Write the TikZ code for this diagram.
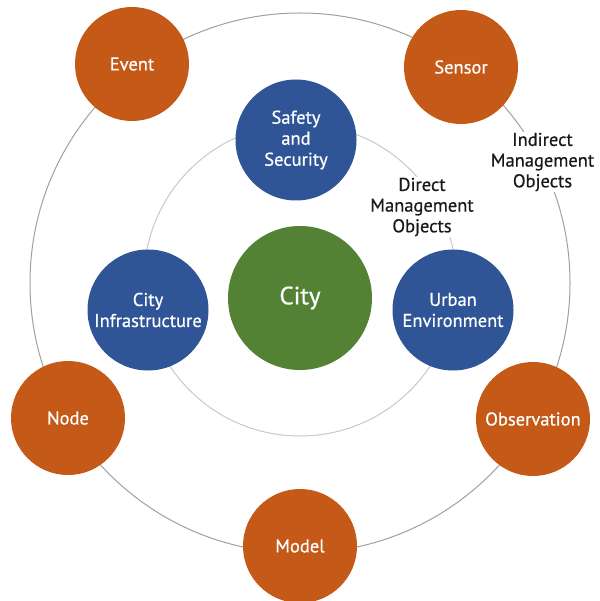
\documentclass[tikz,border=0pt]{standalone}
\usepackage{fontspec}
\setmainfont{PT Sans}[FakeBold=0.6]
\definecolor{orangec}{HTML}{C55A18}
\definecolor{bluec}{HTML}{2F5597}
\definecolor{greenc}{HTML}{548235}
\definecolor{ringouter}{HTML}{A0A0A0}
\definecolor{ringinner}{HTML}{C8C8C8}
\tikzset{
  outerobj/.style={circle, fill=orangec, text=white, minimum size=114pt, inner sep=0pt, align=center, font=\fontsize{18.5}{21}\selectfont},
  innerobj/.style={circle, fill=bluec, text=white, minimum size=121pt, inner sep=0pt, align=center, font=\fontsize{18.5}{21}\selectfont},
  cityobj/.style={circle, fill=greenc, text=white, minimum size=144pt, inner sep=0pt, align=center, font=\fontsize{25}{28}\selectfont},
  ringlabel/.style={fill=white, text=black!90, align=center, inner sep=1pt, font=\fontsize{18.5}{20.7}\selectfont},
}
\begin{document}
\begin{tikzpicture}[x=1pt,y=-1pt]
\useasboundingbox (0,0) rectangle (599,601);
\coordinate (ctr) at (300,283);
\coordinate (ictr) at (300,280);
\draw[ringouter, line width=1pt] (ctr) circle[radius=270];
\draw[ringinner, line width=1pt] (ictr) circle[radius=156];
% outer objects
\node[outerobj] (event) at (132,64) {Event};
\node[outerobj] (sensor) at (461,67) {Sensor};
\node[outerobj] (node) at (68,418) {Node};
\node[outerobj] (obs) at (533,419) {Observation};
\node[outerobj] (model) at (300,546) {Model};
% inner objects
\node[innerobj] (safety) at (296,140) {Safety\\and\\Security};
\node[innerobj] (infra) at (148,310) {City\\Infrastructure};
\node[innerobj] (urban) at (453,310) {Urban\\Environment};
\node[cityobj] (city) at (300,298) {City};
% labels
\node[ringlabel] (direct) at (422,207) {Direct\\Management\\Objects};
\node[ringlabel] (indirect) at (542.5,162) {Indirect\\Management\\Objects};
\end{tikzpicture}
\end{document}
